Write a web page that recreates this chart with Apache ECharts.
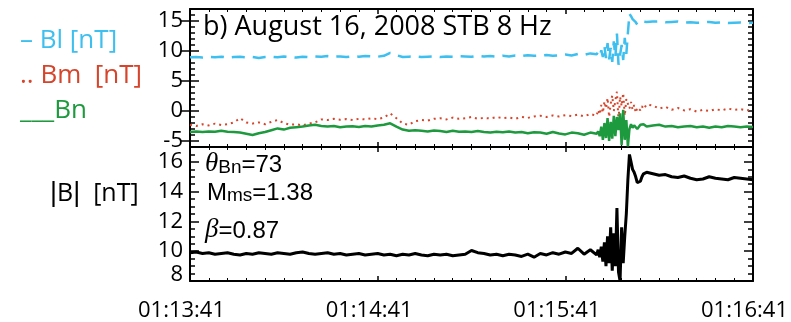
<!DOCTYPE html>
<html>
<head>
<meta charset="utf-8">
<script src="https://cdn.jsdelivr.net/npm/echarts@6/dist/echarts.min.js"></script>
<style>
  html, body { margin: 0; padding: 0; background: #fff; }
  #chart { width: 791px; height: 322px; }
</style>
</head>
<body>
<div id="chart"></div>
<script>
// seconds after 01:13:41
const times = [
  0, 2, 4, 6, 8, 10, 12, 14, 16, 18, 20, 22, 24, 26, 28, 30, 32, 34, 36, 38,
  40, 42, 44, 46, 48, 50, 52, 54, 56, 58, 60, 62, 64, 66, 68, 70, 72, 74, 76, 78,
  80, 82, 84, 86, 88, 90, 92, 94, 96, 98, 100, 102, 104, 106, 108, 110, 112, 114, 116, 118,
  120, 122, 124, 126, 128, 130,
  130.5, 131, 131.5, 132, 132.5, 133, 133.5, 134, 134.5, 135, 135.5, 136, 136.5, 137, 137.5, 138,
  138.5, 139, 139.5, 140, 140.5, 141, 141.5, 142, 142.5, 143, 143.5, 144, 144.5, 145, 145.5, 146,
  148, 150, 152, 154, 156, 158, 160, 162, 164, 166, 168, 170, 172, 174, 176, 178, 180
];

const bl = [
  8.95, 9.0, 8.9, 9.0, 8.95, 9.05, 8.9, 9.0, 9.05, 8.95, 9.0, 8.85, 9.0, 9.05, 8.95, 9.1, 9.0, 8.9, 9.05, 9.0,
  9.1, 9.05, 9.15, 9.05, 9.1, 9.0, 9.1, 9.05, 9.15, 9.1, 9.05, 9.2, 9.7, 9.3, 9.0, 9.05, 9.1, 9.0, 9.05, 9.1,
  9.0, 9.1, 9.05, 9.15, 9.1, 9.05, 9.2, 9.1, 9.15, 9.05, 9.2, 9.1, 9.25, 9.15, 9.3, 9.2, 9.25, 9.35, 9.2, 9.3,
  9.4, 9.25, 9.5, 9.35, 9.6, 9.45,
  9.8, 9.2, 10.1, 9.0, 10.8, 8.8, 11.3, 8.6, 10.5, 8.2, 11.6, 9.0, 12.9, 7.7, 8.0, 11.0,
  8.5, 12.2, 9.5, 13.0, 16.2, 15.8, 15.3, 15.1, 14.8, 14.4, 14.3, 14.5, 14.8, 14.9, 15.0, 14.85,
  14.9, 14.95, 14.8, 14.85, 14.9, 14.75, 14.8, 14.7, 14.75, 14.85, 14.7, 14.75, 14.65, 14.7, 14.75, 14.65, 14.7
];

const bm = [
  -2.3, -2.5, -2.2, -2.4, -2.1, -2.35, -2.2, -1.9, -1.2, -1.9, -2.1, -1.9, -2.2, -1.8, -1.5, -2.0, -2.3, -2.2, -2.4, -2.1,
  -1.9, -1.4, -1.5, -1.3, -1.45, -1.35, -1.5, -1.3, -1.4, -1.2, -1.35, -1.1, -0.4, -1.2, -2.1, -2.3, -1.7, -1.5, -1.6, -1.3,
  -1.2, -1.4, -1.1, -1.3, -1.2, -1.0, -1.3, -1.15, -1.25, -1.0, -1.2, -1.1, -1.3, -1.0, -1.15, -0.9, -0.8, -1.0, -0.75, -0.9,
  -0.7, -0.85, -0.6, -0.9, -0.5, -0.8,
  0.2, -0.6, 1.0, -0.3, 1.6, 0.4, 2.2, -1.0, 1.2, 2.6, 0.0, 1.8, 3.2, -1.5, 2.4, 0.8,
  3.0, -0.8, 2.0, 1.2, 0.4, 1.5, 0.2, 1.0, -0.3, 0.6, 0.9, 0.1, 0.8, 0.3, 0.5, 1.1,
  0.9, 0.4, 0.7, 0.2, 0.5, 0.1, 0.3, -0.1, 0.2, 0.0, 0.3, 0.1, 0.4, 0.2, 0.3, 0.1, 0.2
];

const bn = [
  -3.5, -3.4, -3.5, -3.4, -3.45, -3.3, -3.45, -3.5, -3.6, -3.8, -4.0, -3.7, -3.5, -3.2, -2.9, -3.1, -2.8, -2.7, -2.6, -2.4,
  -2.3, -2.5, -2.6, -2.5, -2.7, -2.6, -2.55, -2.65, -2.5, -2.6, -2.4, -2.3, -2.05, -2.6, -3.1, -3.3, -3.2, -3.3, -3.4, -3.25,
  -3.35, -3.5, -3.3, -3.45, -3.4, -3.5, -3.35, -3.5, -3.6, -3.45, -3.55, -3.4, -3.6, -3.5, -3.7, -3.55, -3.6, -3.8, -3.5, -3.75,
  -3.9, -3.6, -3.7, -3.95, -3.6, -3.8,
  -3.4, -4.2, -2.6, -4.8, -2.0, -4.5, -1.2, -5.0, -1.8, -4.6, -0.8, -4.2, -1.0, -3.2, -0.4, -5.7,
  0.2, -4.8, -1.5, -5.9, -3.0, -2.2, -2.8, -2.4, -2.6, -3.0, -2.7, -2.3, -2.5, -2.2, -2.4, -2.6,
  -2.4, -2.3, -2.6, -2.5, -2.7, -2.6, -2.5, -2.7, -2.6, -2.8, -2.6, -2.7, -2.5, -2.6, -2.7, -2.6, -2.65
];

const bMag = [
  9.9, 9.95, 9.85, 9.9, 9.8, 9.85, 9.9, 9.8, 9.75, 9.85, 9.8, 9.9, 9.85, 9.8, 9.9, 9.85, 9.8, 9.9, 9.95, 9.85,
  9.8, 9.85, 9.9, 9.8, 9.85, 9.75, 9.8, 9.85, 9.75, 9.8, 9.85, 9.75, 9.8, 9.7, 9.8, 9.75, 9.85, 9.75, 9.7, 9.8,
  9.75, 9.8, 9.7, 9.75, 9.8, 10.05, 9.9, 9.85, 9.75, 9.8, 9.7, 9.8, 9.75, 9.65, 9.8, 9.6, 9.85, 9.75, 9.9, 9.8,
  9.95, 9.85, 10.2, 9.8, 10.1, 9.75,
  10.1, 9.6, 10.3, 9.3, 10.6, 9.0, 11.0, 9.2, 11.6, 8.7, 11.2, 9.0, 12.9, 8.6, 8.0, 11.6,
  9.2, 11.0, 12.5, 14.8, 16.5, 16.0, 15.5, 15.3, 15.0, 14.6, 14.5, 14.7, 15.0, 15.2, 15.1, 15.3,
  15.2, 15.1, 15.15, 15.0, 14.95, 15.05, 14.9, 14.8, 14.85, 15.0, 14.9, 14.85, 14.8, 14.95, 14.9, 14.85, 14.8
];

const timeTicks = ['01:13:41', '01:14:41', '01:15:41', '01:16:41'];
const topTicks = [-5, 0, 5, 10, 15];

const pairs = (vals) => times.map((t, i) => [t, vals[i]]);

const chart = echarts.init(document.getElementById('chart'));

const black = '#000';
const tickFont = { fontFamily: 'Open Sans', fontSize: 22, color: black };

function xAx(grid, pos, labels) {
  return {
    type: 'value', gridIndex: grid, position: pos, min: 0, max: 180, interval: 60,
    axisLine: { show: true, onZero: false, lineStyle: { color: black, width: 2 } },
    axisTick: { show: true, inside: true, length: 5, lineStyle: { color: black, width: 1.5 } },
    minorTick: { show: true, splitNumber: 10, length: 3, lineStyle: { color: black, width: 1 } },
    splitLine: { show: false },
    axisLabel: labels ? {
      show: true, margin: 19, padding: [0, 17, 0, 0], ...tickFont,
      formatter: (v) => timeTicks[Math.round(v / 60)]
    } : { show: false }
  };
}

function yMinor(pos) {
  return {
    type: 'value', gridIndex: 0, position: pos, min: -6, max: 17, interval: 1,
    axisLine: { show: true, onZero: false, lineStyle: { color: black, width: 2 } },
    axisTick: { show: true, inside: true, length: 5, lineStyle: { color: black, width: 1.5 } },
    splitLine: { show: false }, axisLabel: { show: false }
  };
}

function yMajor(pos, labels) {
  return {
    type: 'value', gridIndex: 0, position: pos, min: -6, max: 17,
    axisLine: { show: false },
    axisTick: { show: true, inside: true, length: 9, customValues: topTicks, lineStyle: { color: black, width: 1.5 } },
    splitLine: { show: false },
    axisLabel: labels ? { show: true, margin: 7, customValues: topTicks, ...tickFont } : { show: false }
  };
}

function yBottom(pos, labels) {
  return {
    type: 'value', gridIndex: 1, position: pos, min: 8, max: 17, interval: 2,
    axisLine: { show: true, onZero: false, lineStyle: { color: black, width: 2 } },
    axisTick: { show: true, inside: true, length: 9, lineStyle: { color: black, width: 1.5 } },
    minorTick: { show: true, splitNumber: 4, length: 5, lineStyle: { color: black, width: 1.5 } },
    splitLine: { show: false },
    axisLabel: labels ? {
      show: true, margin: 7, showMinLabel: true, showMaxLabel: false, hideOverlap: false, ...tickFont,
      // the lowest label sits a little above its tick, as in the original
      formatter: (v) => (v === 8 ? '{low|8}' : String(v)),
      rich: { low: { ...tickFont, padding: [0, 0, 12, 0] } }
    } : { show: false }
  };
}

const subStyle = { fontFamily: 'Liberation Sans', fontSize: 19, lineHeight: 28, verticalAlign: 'bottom', fill: black };
const mainStyle = { fontFamily: 'Liberation Sans', fontSize: 24, lineHeight: 28, verticalAlign: 'bottom', fill: black };
const greekStyle = { fontFamily: 'Liberation Serif', fontStyle: 'italic', fontSize: 27, lineHeight: 28, verticalAlign: 'bottom', fill: black };

const option = {
  animation: false,
  backgroundColor: '#fff',
  grid: [
    { left: 190, right: 38, top: 9, height: 138 },
    { left: 190, right: 38, top: 147, height: 138 }
  ],
  xAxis: [xAx(0, 'bottom', false), xAx(0, 'top', false), xAx(1, 'bottom', true), xAx(1, 'top', false)],
  yAxis: [yMinor('left'), yMajor('left', true), yMinor('right'), yMajor('right', false),
          yBottom('left', true), yBottom('right', false)],
  series: [
    {
      name: 'Bl', type: 'line', xAxisIndex: 0, yAxisIndex: 0, data: pairs(bl),
      showSymbol: false, lineStyle: { color: '#3DBFEF', width: 2.5, type: [13, 8] }
    },
    {
      name: 'Bm', type: 'line', xAxisIndex: 0, yAxisIndex: 0, data: pairs(bm),
      showSymbol: false, lineStyle: { color: '#D6452B', width: 2, type: [2, 4] }
    },
    {
      name: 'Bn', type: 'line', xAxisIndex: 0, yAxisIndex: 0, data: pairs(bn),
      showSymbol: false, lineStyle: { color: '#1E9A3E', width: 2.5 }
    },
    {
      name: '|B|', type: 'line', xAxisIndex: 2, yAxisIndex: 4, data: pairs(bMag),
      showSymbol: false, lineStyle: { color: black, width: 3 }
    }
  ],
  graphic: [
    { type: 'text', left: 203, top: 14,
      style: { text: 'b) August 16, 2008 STB 8 Hz', fontFamily: 'Open Sans', fontSize: 27, fill: black } },
    { type: 'text', left: 20, top: 28,
      style: { text: '– Bl [nT]', fontFamily: 'Open Sans', fontSize: 26, fill: '#3DBFEF' } },
    { type: 'text', left: 20, top: 63,
      style: { text: '.. Bm  [nT]', fontFamily: 'Open Sans', fontSize: 26, fill: '#D6452B' } },
    { type: 'text', left: 20, top: 98,
      style: { text: '___Bn', fontFamily: 'Open Sans', fontSize: 26, fill: '#1E9A3E' } },
    { type: 'text', left: 50, top: 180,
      style: {
        text: '{b||}B{b||}  [nT]',
        fontFamily: 'Open Sans', fontSize: 25, fill: black,
        rich: { b: { fontFamily: 'Liberation Sans', fontSize: 27, fill: black } }
      } },
    { type: 'text', left: 205, top: 150,
      style: { text: '{g|θ}{s|Bn}{n|=73}', rich: { g: greekStyle, s: subStyle, n: mainStyle } } },
    { type: 'text', left: 207, top: 181,
      style: { text: '{n|M}{s|ms}{n|=1.38}', rich: { s: subStyle, n: mainStyle } } },
    { type: 'text', left: 205, top: 216,
      style: { text: '{g|β}{n|=0.87}', rich: { g: greekStyle, n: mainStyle } } }
  ]
};

chart.setOption(option);
</script>
</body>
</html>
